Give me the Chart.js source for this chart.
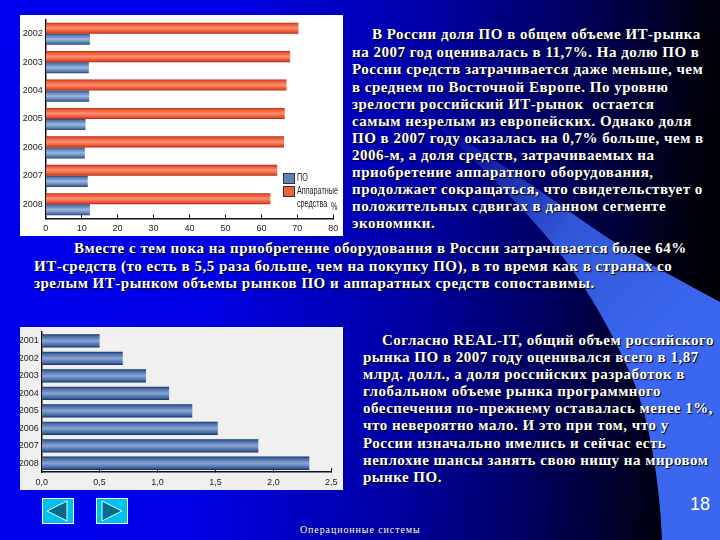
<!DOCTYPE html>
<html>
<head>
<meta charset="utf-8">
<script src="https://cdn.jsdelivr.net/npm/chart.js@4"></script>
<style>
  html, body { margin: 0; padding: 0; }
  body { width: 720px; height: 540px; overflow: hidden; position: relative;
    background: linear-gradient(95deg, #0000f0 0%, #0000e6 30%, #0000a0 58%, #00005a 76%, #000010 92%, #000000 100%); }
  #beam { position: absolute; left: 0; top: 0; }
  .panel { position: absolute; left: 20px; width: 323px; }
  .panel canvas { display: block; }
  #panel1 { top: 15px; height: 221px; background: #fff; }
  #panel2 { top: 327px; height: 163px; background: #f0f0f0; }
  .line { position: absolute; white-space: pre; color: #fff; font: bold 15px "Liberation Serif", serif; letter-spacing: 0.5px;
    text-shadow: 1px 1px 1px #000; line-height: 16px; }
  .leg { position: absolute; font: 10px "Liberation Sans", sans-serif; color: #222; white-space: pre; line-height: 10px;
    transform: scaleX(0.72); transform-origin: left top; }
  .swatch { position: absolute; width: 10px; height: 9px; border: 1px solid #333; }
  #pageNo { position: absolute; left: 690px; top: 494px; font: 18px "Liberation Sans", sans-serif; color: #fff; }
  #footer { position: absolute; left: 300px; top: 524px; font: 10px "Liberation Serif", serif; color: #fff; letter-spacing: 0.9px;
    text-shadow: 0 0 1px #000; white-space: pre; }
  .nav { position: absolute; top: 498px; }
</style>
</head>
<body>
<svg id="beam" width="720" height="540">
  <defs>
    <linearGradient id="beamFill" x1="430" y1="120" x2="660" y2="340" gradientUnits="userSpaceOnUse">
      <stop offset="0" stop-color="#3a66f0" stop-opacity="0"/>
      <stop offset="0.55" stop-color="#3a66f0" stop-opacity="0.85"/>
      <stop offset="1" stop-color="#3a66f0"/>
    </linearGradient>
  </defs>
  <path d="M430,118 C480,165 515,200 541,230 C580,275 610,325 635,385 C652,430 660,490 662,540 L720,540 L720,302 C680,280 640,260 596,230 C540,190 480,150 430,118 Z" fill="url(#beamFill)"/>
</svg>

<div class="panel" id="panel1">
  <canvas id="shareChart" width="323" height="221"></canvas>
  <div class="swatch" style="left:263px;top:158px;background:#5f82bb"></div>
  <div class="leg" style="left:277px;top:158px">ПО</div>
  <div class="swatch" style="left:263px;top:171px;background:#f0603a"></div>
  <div class="leg" style="left:277px;top:171px">Аппаратные</div>
  <div class="leg" style="left:277px;top:184px">средства</div>
  <div class="leg" style="left:311px;top:187px">%</div>
</div>

<div class="panel" id="panel2">
  <canvas id="marketChart" width="323" height="163"></canvas>
</div>

<svg class="nav" style="left:42px" width="32" height="26">
  <rect x="0.5" y="0.5" width="31" height="25" fill="#00c0f0" stroke="#dff" stroke-width="1"/>
  <polygon points="25,3 25,23 5,13" fill="#0a6a8c" stroke="#dff" stroke-width="1"/>
</svg>
<svg class="nav" style="left:96px" width="32" height="26">
  <rect x="0.5" y="0.5" width="31" height="25" fill="#00c0f0" stroke="#dff" stroke-width="1"/>
  <polygon points="6,3 6,23 26,13" fill="#0a6a8c" stroke="#dff" stroke-width="1"/>
</svg>

<div id="pageNo">18</div>
<div id="footer">Операционные системы</div>

<script>
// Chart 1: share of software and hardware in IT spending, %
const shareYears = ['2002', '2003', '2004', '2005', '2006', '2007', '2008'];
const hardwareShare = [70.3, 68, 67, 66.5, 66.3, 64.4, 62.5];
const softwareShare = [12.3, 12, 12.1, 11.1, 10.9, 11.7, 12.3];

// Chart 2: Russian software market
const marketYears = ['2001', '2002', '2003', '2004', '2005', '2006', '2007', '2008'];
const marketVolume = [0.5, 0.7, 0.9, 1.1, 1.3, 1.52, 1.87, 2.31];

// Slide text, one entry per line: [text, left, top]
const textLines = [
  ['В России доля ПО в общем объеме ИТ-рынка', 372, 26],
  ['на 2007 год оценивалась в 11,7%. На долю ПО в', 352, 44],
  ['России средств затрачивается даже меньше, чем', 352, 61],
  ['в среднем по Восточной Европе. По уровню', 352, 79],
  ['зрелости российский ИТ-рынок  остается', 352, 96],
  ['самым незрелым из европейских. Однако доля', 352, 113],
  ['ПО в 2007 году оказалась на 0,7% больше, чем в', 352, 130],
  ['2006-м, а доля средств, затрачиваемых на', 352, 147],
  ['приобретение аппаратного оборудования,', 352, 164],
  ['продолжает сокращаться, что свидетельствует о', 352, 181],
  ['положительных сдвигах в данном сегменте', 352, 198],
  ['экономики.', 352, 215],
  ['Вместе с тем пока на приобретение оборудования в России затрачивается более 64%', 74, 240],
  ['ИТ-средств (то есть в 5,5 раза больше, чем на покупку ПО), в то время как в странах со', 34, 258],
  ['зрелым ИТ-рынком объемы рынков ПО и аппаратных средств сопоставимы.', 34, 275],
  ['Согласно REAL-IT, общий объем российского', 382, 332],
  ['рынка ПО в 2007 году оценивался всего в 1,87', 363, 349],
  ['млрд. долл., а доля российских разработок в', 363, 366],
  ['глобальном объеме рынка программного', 363, 383],
  ['обеспечения по-прежнему оставалась менее 1%,', 363, 400],
  ['что невероятно мало. И это при том, что у', 363, 417],
  ['России изначально имелись и сейчас есть', 363, 435],
  ['неплохие шансы занять свою нишу на мировом', 363, 452],
  ['рынке ПО.', 363, 469]
];

textLines.forEach(function(item) {
  const div = document.createElement('div');
  div.className = 'line';
  div.textContent = item[0];
  div.style.left = item[1] + 'px';
  div.style.top = item[2] + 'px';
  document.body.appendChild(div);
});

const tickFont = { family: '"Liberation Sans", sans-serif', size: 9 };

// Paints each bar with a cylinder-like gradient across its thickness
const shadedBars = {
  id: 'shadedBars',
  beforeDatasetDraw: function(chart, args) {
    const stops = chart.data.datasets[args.index].shade;
    args.meta.data.forEach(function(bar) {
      const half = bar.height / 2;
      const grad = chart.ctx.createLinearGradient(0, bar.y - half, 0, bar.y + half);
      grad.addColorStop(0, stops[0]);
      grad.addColorStop(0.12, stops[1]);
      grad.addColorStop(0.5, stops[2]);
      grad.addColorStop(0.85, stops[1]);
      grad.addColorStop(1, stops[0]);
      bar.options = Object.assign({}, bar.options, { backgroundColor: grad });
    });
  }
};

// The plot box is set by layout padding alone, so drop the room scales keep for labels
function clearPadding(scale) {
  scale.paddingTop = 0;
  scale.paddingBottom = 0;
  scale.paddingLeft = 0;
  scale.paddingRight = 0;
}

function axisOptions(max, step, leftWidth, bottomHeight, labelFn) {
  return {
    x: {
      min: 0,
      max: max,
      ticks: { stepSize: step, color: '#222', font: tickFont, padding: 9, maxRotation: 0, callback: labelFn },
      grid: { drawOnChartArea: false, color: '#111', tickLength: -4 },
      border: { color: '#111', width: 1.5 },
      afterFit: function(scale) { scale.height = bottomHeight; clearPadding(scale); }
    },
    y: {
      ticks: { color: '#222', font: tickFont, padding: 3 },
      grid: { display: false, drawTicks: false },
      border: { color: '#111', width: 1.5 },
      afterFit: function(scale) { scale.width = leftWidth; clearPadding(scale); }
    }
  };
}

new Chart(document.getElementById('shareChart'), {
  type: 'bar',
  plugins: [shadedBars],
  data: {
    labels: shareYears,
    datasets: [
      { label: 'Аппаратные средства', data: hardwareShare, backgroundColor: '#f0603a',
        shade: ['#a8281a', '#e84e2c', '#ff9070'], categoryPercentage: 0.78, barPercentage: 1 },
      { label: 'ПО', data: softwareShare, backgroundColor: '#5f82bb',
        shade: ['#24406f', '#4f74ae', '#9db8dc'], categoryPercentage: 0.78, barPercentage: 1 }
    ]
  },
  options: {
    indexAxis: 'y',
    responsive: false,
    animation: false,
    layout: { padding: { top: 4.5, right: 9.7, left: 0, bottom: 0 } },
    plugins: { legend: { display: false }, tooltip: { enabled: false } },
    scales: axisOptions(80, 10, 25.7, 17.5, function(value) { return String(value); })
  }
});

new Chart(document.getElementById('marketChart'), {
  type: 'bar',
  plugins: [shadedBars],
  data: {
    labels: marketYears,
    datasets: [
      { label: 'Объем рынка ПО', data: marketVolume, backgroundColor: '#4f74ae',
        shade: ['#12305f', '#3f649f', '#8aa6d2'], categoryPercentage: 0.76, barPercentage: 1 }
    ]
  },
  options: {
    indexAxis: 'y',
    responsive: false,
    animation: false,
    layout: { padding: { top: 5.2, right: 11.7, left: 0, bottom: 0 } },
    plugins: { legend: { display: false }, tooltip: { enabled: false } },
    scales: axisOptions(2.5, 0.5, 21.7, 18, function(value) { return value.toFixed(1).replace('.', ','); })
  }
});
</script>
</body>
</html>
